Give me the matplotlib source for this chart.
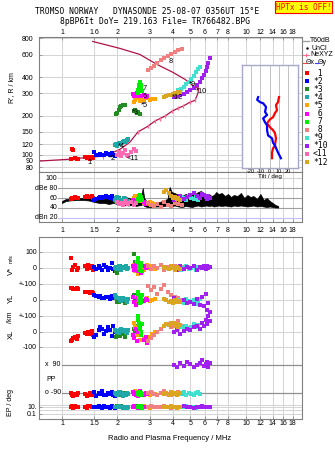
import numpy as np
import matplotlib
matplotlib.use("Agg")
import matplotlib.pyplot as plt
from matplotlib.ticker import NullLocator

plt.rcParams['font.family'] = ['Liberation Sans', 'DejaVu Sans']

# ---------------- data ----------------
freq_ticks = [1, 1.5, 2, 3, 4, 5, 6, 7, 8, 10, 12, 14, 16, 18]
freq_labels_top = ['1', '1.6', '2', '3', '4', '5', '6', '7', '8', '10', '12', '14', '16', '18']
freq_labels_bottom = ['1', '1.5', '2', '3', '4', '5', '6', '7', '8', '10', '12', '14', '16', '18']
range_ticks = [80, 90, 100, 120, 150, 200, 300, 400, 600, 800]
amp_ticks = [20, 40, 60, 80, 100]
amp_labels = ['dBn 20', '40', '60', 'dBe 80', '100']

# profile curves (MHz, km)
lower_prof_f = [0.75, 1.1, 1.47, 1.67, 1.82, 2.07, 2.34, 2.59, 2.93, 3.2, 3.63, 3.96, 4.27, 4.55, 4.96, 5.29, 5.41, 5.5, 5.52]
lower_prof_r = [89, 92, 96, 97, 101, 110, 125, 150, 166, 182, 199, 217, 229, 238, 255, 264, 284, 305, 330]
upper_prof_f = [1.47, 2.07, 2.65, 3.28, 4.01, 4.66, 5.15, 5.45]
upper_prof_r = [758, 669, 601, 503, 436, 385, 345, 330]
nexyz_f = [1.67, 2.59, 2.93, 3.2, 3.41, 3.63, 3.96, 4.27, 4.55, 4.96, 5.29]
nexyz_r = [96, 150, 166, 182, 188, 199, 217, 229, 238, 255, 264]

# tilt inset (deg, km)
tilt_x_deg = [10.3, 9.2, 7.0, 8.1, 5.9, 3.8, 0.5, -2.7, 0.5, 3.8, 5.9, 7.0, 5.9, 3.8, 2.7, 2.7]
tilt_x_r = [279, 255, 242, 221, 210, 195, 188, 175, 163, 155, 147, 134, 118, 112, 104, 94]
tilt_y_deg = [-12.4, -13.5, -10.3, -7.0, -3.8, -4.9, -2.7, -7.0, -4.9, -2.7, -2.7, -1.6, 2.7, 3.8, 5.9, 9.2, 12.4]
tilt_y_r = [279, 266, 255, 250, 234, 214, 203, 191, 178, 169, 155, 141, 134, 124, 118, 104, 94]

# amplitude envelope (black band)
amp_f = [1.0, 1.05, 1.1, 1.2, 1.3, 1.4, 1.5, 1.6, 1.7, 1.8, 1.9, 2.0, 2.1, 2.2, 2.3, 2.4, 2.5, 2.6, 2.7, 2.75,
         2.8, 2.9, 3.0, 3.1, 3.2, 3.4, 3.6, 3.75, 3.85, 3.95, 4.1, 4.3, 4.5, 4.7, 4.9, 5.1, 5.3, 5.5, 5.7, 5.9,
         6.1, 6.3, 6.5, 6.7, 6.9, 7.1, 7.4, 7.7, 8.0, 8.3, 8.6, 9.0, 9.4, 9.8, 10.2, 10.6, 11.0, 11.5, 12.0, 12.5,
         13.0, 13.5, 14.0, 14.5, 15.0]
amp_top = [54, 58, 58, 60, 60, 61, 60, 59, 58, 60, 58, 62, 60, 64, 60, 58, 62, 64, 66, 80,
           60, 52, 48, 48, 50, 52, 56, 58, 82, 72, 70, 66, 64, 68, 66, 70, 68, 72, 74, 70,
           66, 68, 64, 66, 72, 68, 70, 64, 68, 62, 66, 64, 70, 60, 66, 62, 64, 58, 68, 56,
           60, 54, 50, 46, 44]
amp_bot = [50, 54, 55, 56, 56, 55, 52, 50, 50, 48, 50, 48, 50, 46, 45, 46, 44, 45, 46, 48,
           44, 42, 42, 42, 43, 43, 44, 45, 48, 44, 45, 43, 42, 44, 43, 42, 44, 45, 43, 44,
           45, 44, 45, 43, 44, 45, 44, 45, 44, 43, 45, 44, 45, 44, 43, 44, 45, 43, 44, 43,
           42, 43, 42, 41, 41]

# echo traces: frequency (MHz), range (km), amplitude (dB), V* (m/s), YL (km), XL (km), PP (deg), EP (deg)
t1_f = [1.12, 1.13, 1.15, 1.17, 1.2, 1.22, 1.33, 1.36, 1.39, 1.42, 1.45, 1.47]
t1_r = [93, 110, 108, 94, 93, 92, 95, 94, 96, 93, 95, 94]
t1_a = [58, 60, 61, 62, 60, 61, 62, 64, 63, 62, 64, 61]
t1_v = [60, -10, 5, 20, -15, 0, 10, -5, 20, 0, 15, -10]
t1_yl = [75, 72, 70, 68, 72, 70, 50, 48, 52, 45, 48, 42]
t1_xl = [-60, -50, -40, -30, -45, -25, -5, -15, 0, -10, 5, -20]
t1_pp = [-90, -100, -110, -95, -105, -90, -95, -110, -100, -90, -105, -95]
t1_ep = [10, 20, 5, 15, 8, 12, 10, 6, 20, 15, 8, 10]

t2_f = [1.5, 1.54, 1.58, 1.62, 1.66, 1.7, 1.74, 1.78, 1.82, 1.86, 1.9, 1.95]
t2_r = [104, 100, 99, 101, 100, 100, 102, 101, 100, 103, 99, 97]
t2_a = [56, 58, 60, 62, 60, 63, 64, 62, 60, 64, 58, 60]
t2_v = [5, -5, 10, 0, -15, 20, 5, -10, 0, 30, -5, -20]
t2_yl = [30, 25, 20, 22, 15, 10, 18, 20, 8, 25, 15, 10]
t2_xl = [-30, -20, 10, 35, 20, -10, 5, 30, 15, -25, 40, 0]
t2_pp = [-85, -110, -90, -95, -80, -100, -105, -90, -95, -85, -100, -110]
t2_ep = [12, 8, 15, 10, 6, 20, 9, 12, 7, 15, 10, 5]

t3_f = [1.97, 2.0, 2.03, 2.06, 2.1, 2.15, 2.2, 2.45, 2.5, 2.55, 2.6, 2.65]
t3_r = [205, 212, 222, 233, 240, 242, 241, 218, 224, 212, 216, 208]
t3_a = [55, 58, 60, 56, 54, 52, 55, 58, 62, 60, 56, 54]
t3_v = [-20, -30, 0, 10, -10, 5, 0, 90, 40, 20, -10, 5]
t3_yl = [10, -15, -10, 5, 0, -5, -20, 30, 0, -10, 20, -5]
t3_xl = [-30, -20, -10, -25, -15, -5, -35, 20, 0, -20, 40, 10]
t3_pp = [-95, -90, -100, -85, -95, -90, -105, -90, -95, -100, -85, -90]
t3_ep = [10, 15, 8, 12, 20, 9, 6, 12, 10, 15, 8, 14]

t4_f = [1.94, 1.97, 2.0, 2.03, 2.06, 2.1, 2.14, 2.18, 2.22, 2.26, 2.3]
t4_r = [118, 120, 117, 122, 121, 124, 126, 128, 125, 130, 132]
t4_a = [56, 60, 62, 58, 54, 52, 56, 60, 58, 55, 54]
t4_v = [0, 5, -5, 10, 0, -10, 5, 0, 10, -5, 0]
t4_yl = [30, 20, 10, 15, 0, -5, 10, 5, 0, -10, 5]
t4_xl = [10, 5, 0, -5, 15, 20, 5, 10, 0, -5, 10]
t4_pp = [-90, -95, -100, -85, -95, -90, -110, -95, -100, -90, -95]
t4_ep = [12, 10, 8, 15, 9, 11, 7, 13, 10, 6, 12]

t5_f = [2.45, 2.5, 2.55, 2.6, 2.65, 2.7, 2.8, 2.9, 3.0, 3.1, 3.2]
t5_r = [255, 268, 285, 275, 260, 270, 265, 275, 268, 272, 270]
t5_a = [60, 64, 58, 56, 62, 55, 50, 48, 52, 50, 48]
t5_v = [20, -20, 40, -40, 10, 0, -10, 20, 0, 10, -5]
t5_yl = [20, -10, 0, 10, -20, -5, 0, 10, -5, 0, 5]
t5_xl = [60, 30, -20, 0, -50, -20, -40, -60, -30, -10, 0]
t5_pp = [-90, -80, -100, -95, -85, -90, -100, -95, -105, -90, -95]
t5_ep = [15, 8, 12, 10, 20, 9, 14, 11, 7, 13, 10]

t6_f = [2.43, 2.47, 2.52, 2.56, 2.6, 2.65, 2.7, 2.78, 2.85, 2.9]
t6_r = [295, 288, 283, 300, 292, 287, 283, 290, 282, 288]
t6_a = [56, 52, 50, 54, 58, 60, 56, 52, 48, 50]
t6_v = [10, -10, 20, 0, -20, 30, -30, 10, 0, 5]
t6_yl = [20, -10, -30, 0, 10, -20, 30, -5, 5, 0]
t6_xl = [-20, -40, 20, -60, 0, 30, -10, -50, -30, -70]
t6_pp = [-85, -95, -100, -90, -110, -80, -95, -100, -90, -95]
t6_ep = [10, 14, 8, 12, 6, 18, 11, 9, 13, 10]

t7_f = [2.58, 2.6, 2.62, 2.64, 2.66, 2.68, 2.7, 2.72]
t7_r = [300, 318, 335, 350, 365, 345, 325, 310]
t7_a = [54, 58, 60, 64, 66, 62, 58, 56]
t7_v = [40, 60, 20, 0, -10, 30, 10, -20]
t7_yl = [40, 50, 20, 0, -20, 10, -10, 30]
t7_xl = [100, 80, 60, 40, 20, 0, -20, 50]
t7_pp = [-95, -90, -100, -85, -95, -105, -90, -95]
t7_ep = [12, 9, 15, 10, 8, 14, 11, 7]

t8_f = [2.95, 3.05, 3.15, 3.3, 3.45, 3.6, 3.75, 3.9, 4.1, 4.3, 4.5]
t8_r = [455, 470, 490, 515, 540, 560, 585, 610, 630, 650, 665]
t8_a = [50, 46, 44, 48, 42, 52, 46, 44, 50, 48, 46]
t8_v = [10, -5, 15, 0, 20, -10, 5, 0, 10, -5, 5]
t8_yl = [90, 60, 80, 40, 70, 95, 50, 30, 20, 10, 0]
t8_xl = [-60, -40, -20, 0, 20, 40, 50, 30, 60, 70, 40]
t8_pp = [-90, -85, -95, -100, -90, -80, -95, -105, -90, -85, -95]
t8_ep = [10, 15, 8, 12, 9, 14, 11, 7, 13, 10, 8]

t9_f = [4.3, 4.45, 4.6, 4.75, 4.9, 5.05, 5.2, 5.35, 5.5, 5.6]
t9_r = [315, 325, 338, 352, 368, 388, 410, 435, 465, 480]
t9_a = [58, 62, 60, 56, 64, 60, 58, 62, 56, 60]
t9_v = [5, -10, 0, 10, -5, 0, 15, -10, 5, 0]
t9_yl = [0, -10, -20, 5, -5, -15, 0, -25, -10, 5]
t9_xl = [20, 30, 10, 40, 25, 35, 50, 30, 45, 20]
t9_pp = [-90, -95, -85, -100, -90, -95, -105, -90, -85, -95]
t9_ep = [10, 12, 8, 15, 9, 11, 13, 7, 10, 12]

t10_f = [4.05, 4.2, 4.4, 4.6, 4.8, 5.0, 5.2, 5.4, 5.6, 5.8, 5.95, 6.05, 6.15, 6.25, 6.35]
t10_r = [280, 284, 290, 298, 308, 318, 332, 348, 368, 392, 418, 448, 480, 520, 565]
t10_a = [56, 60, 64, 58, 62, 66, 70, 64, 60, 68, 66, 62, 58, 64, 60]
t10_v = [0, -10, 10, -5, 5, 0, 10, -10, 5, 0, 15, -5, 10, 0, 5]
t10_yl = [10, -5, -15, 0, -20, -10, -25, 5, -30, 20, -40, 40, -60, -20, -75]
t10_xl = [0, 10, -10, 5, 20, 10, 30, 40, 20, 60, 40, 80, 50, 100, 70]
t10_pp = [90, 80, 100, 85, 110, 95, 75, 90, 100, 120, 85, 95, 110, 80, 100]
t10_ep = [10, 12, 8, 15, 9, 11, 7, 13, 10, 14, 9, 12, 8, 11, 10]

t11_f = [2.0, 2.05, 2.1, 2.15, 2.2, 2.25, 2.3, 2.38, 2.45, 2.52]
t11_r = [100, 104, 98, 102, 108, 100, 97, 104, 110, 106]
t11_a = [52, 48, 50, 46, 54, 50, 48, 52, 46, 50]

t12_f = [3.6, 3.7, 3.8, 3.9, 4.0, 4.1, 4.2, 4.3, 4.4]
t12_r = [282, 285, 289, 292, 296, 299, 302, 304, 306]
t12_a = [72, 76, 70, 64, 60, 62, 58, 60, 56]
t12_v = [5, 0, -5, 10, 0, -10, 5, 0, -5]
t12_yl = [5, 0, -10, -5, -20, 0, -15, -5, -10]
t12_xl = [40, 50, 45, 55, 60, 40, 50, 35, 45]
t12_pp = [-95, -90, -100, -85, -95, -90, -100, -95, -90]
t12_ep = [10, 8, 12, 15, 9, 11, 7, 13, 10]

trace_names = [' 1', '*2', '*3', '*4', '*5', ' 6', ' 7', ' 8', '*9', '*10', '<11', '*12']
trace_colors = ['#ff0000', '#0000ff', '#228b22', '#20a8a8', '#ffa500', '#ff00ff',
                '#00ee00', '#f08080', '#40e0d0', '#a020f0', '#ff69b4', '#daa520']

# trace labels in the range panel
label_text = ['1', '*2', '<11', '*4', '*3', '*5', '6', '7', '8', '*9', '*10', '*12']
label_f = [1.37, 1.80, 2.26, 2.02, 2.40, 2.68, 2.74, 2.76, 3.81, 4.90, 5.35, 3.96]
label_r = [87, 94, 94, 116, 214, 242, 284, 326, 531, 352, 311, 279]

traces = [
    (t1_f, t1_r, t1_a, t1_v, t1_yl, t1_xl, t1_pp, t1_ep),
    (t2_f, t2_r, t2_a, t2_v, t2_yl, t2_xl, t2_pp, t2_ep),
    (t3_f, t3_r, t3_a, t3_v, t3_yl, t3_xl, t3_pp, t3_ep),
    (t4_f, t4_r, t4_a, t4_v, t4_yl, t4_xl, t4_pp, t4_ep),
    (t5_f, t5_r, t5_a, t5_v, t5_yl, t5_xl, t5_pp, t5_ep),
    (t6_f, t6_r, t6_a, t6_v, t6_yl, t6_xl, t6_pp, t6_ep),
    (t7_f, t7_r, t7_a, t7_v, t7_yl, t7_xl, t7_pp, t7_ep),
    (t8_f, t8_r, t8_a, t8_v, t8_yl, t8_xl, t8_pp, t8_ep),
    (t9_f, t9_r, t9_a, t9_v, t9_yl, t9_xl, t9_pp, t9_ep),
    (t10_f, t10_r, t10_a, t10_v, t10_yl, t10_xl, t10_pp, t10_ep),
    (t11_f, t11_r, t11_a, None, None, None, None, None),
    (t12_f, t12_r, t12_a, t12_v, t12_yl, t12_xl, t12_pp, t12_ep),
]

# ---------------- layout ----------------
W, H = 335, 451
fig = plt.figure(figsize=(W / 100, H / 100), dpi=100)


def px_axes(x0, y0, x1, y1, **kw):
    return fig.add_axes([x0 / W, 1 - y1 / H, (x1 - x0) / W, (y1 - y0) / H], **kw)


XLIM = (0.75, 20.2)
FRAME = '#808080'
GRID = '#d4d4d4'
FS = 5
MS = 5


def style_freq(ax):
    ax.set_xscale('log')
    ax.set_xlim(*XLIM)
    ax.set_xticks(freq_ticks)
    ax.xaxis.set_minor_locator(NullLocator())
    for x in freq_ticks:
        ax.axvline(x, color=GRID, lw=0.7, zorder=0)
    for s in ax.spines.values():
        s.set_color(FRAME)
        s.set_linewidth(0.8)
    ax.tick_params(length=2, width=0.5, color=FRAME, labelsize=FS, direction='in')


# ---- range panel ----
ax_r = px_axes(39, 37, 302, 172)
style_freq(ax_r)
ax_r.set_yscale('log')
ax_r.set_ylim(73.2, 821)
ax_r.set_yticks(range_ticks)
ax_r.set_yticklabels([str(v) for v in range_ticks])
ax_r.yaxis.set_minor_locator(NullLocator())
ax_r.xaxis.tick_top()
ax_r.set_xticklabels(freq_labels_top)
ax_r.tick_params(axis='x', pad=1)
ax_r.tick_params(axis='y', pad=4)
for y in range_ticks:
    ax_r.axhline(y, color=GRID, lw=0.7, zorder=0)

ax_r.plot(upper_prof_f, upper_prof_r, color='#b0124a', lw=0.9, zorder=2)
ax_r.plot(lower_prof_f, lower_prof_r, color='#b0124a', lw=0.9, zorder=2)
ax_r.plot(nexyz_f, nexyz_r, ls='none', marker='|', ms=3.5, mew=0.9, color='#ff6f8f', zorder=3)

for i, tr in enumerate(traces):
    ax_r.scatter(tr[0], tr[1], s=MS, marker='s', color=trace_colors[i], linewidths=0, zorder=4)
for t, f, r in zip(label_text, label_f, label_r):
    ax_r.text(f, r, t, fontsize=5.3, ha='left', va='center', color='black', zorder=5)

# ---- amplitude panel ----
ax_a = px_axes(39, 172, 302, 222)
style_freq(ax_a)
ax_a.set_ylim(12, 112)
ax_a.set_yticks([])
ax_a.set_xticklabels(freq_labels_bottom)
ax_a.tick_params(axis='x', pad=3.5)
for y, lab in zip(amp_ticks, amp_labels):
    ax_a.plot([0.955, XLIM[1]], [y, y], color='#c0c0ff' if y == 20 else ('#d4d4d4' if y == 100 else '#a0a0a0'),
              lw=0.8, zorder=0)
    ax_a.text(0.945, y, lab, fontsize=FS, ha='right', va='center')
ax_a.fill_between(amp_f, amp_bot, amp_top, color='black', lw=0.5, zorder=2)
for i, tr in enumerate(traces):
    ax_a.scatter(tr[0], tr[2], s=MS, marker='s', color=trace_colors[i], linewidths=0, zorder=3)

# ---- lower panel (rows in screen units) ----
ax_l = px_axes(39, 237, 302, 419)
style_freq(ax_l)
ax_l.set_ylim(419, 237)
ax_l.set_xticklabels(freq_labels_bottom)
ax_l.tick_params(axis='x', pad=0.5)
row_ticks = [252, 268, 284, 300, 316, 332, 347, 407, 414]
row_labels = ['100', '0', '+-100', '0', '+-100', '0', '-100', '10.', '0.1']
ax_l.set_yticks(row_ticks)
ax_l.set_yticklabels(row_labels)
ax_l.tick_params(axis='y', pad=1.5)
for y in row_ticks + [405, 410]:
    ax_l.axhline(y, color=GRID, lw=0.7, zorder=0)
for y, lab in [(365, 'x  90'), (393, 'o -90')]:
    ax_l.plot([1.0, XLIM[1]], [y, y], color='#909090', lw=0.9, zorder=0)
    ax_l.text(0.985, y, lab, fontsize=FS, ha='right', va='center')
ax_l.text(0.82, 380, 'PP', fontsize=FS, ha='left', va='center')


def v_row(v):
    return 268 - 0.16 * np.asarray(v, float)


def yl_row(v):
    return 300 - 0.16 * np.asarray(v, float)


def xl_row(v):
    return 332 - 0.155 * np.asarray(v, float)


def pp_row(v):
    return 379 - np.asarray(v, float) * 14 / 90


def ep_row(v):
    return 407 - (np.log10(np.asarray(v, float)) - 1) * 3.5


for i, tr in enumerate(traces):
    f = tr[0]
    if tr[3] is None:
        continue
    for vals, fn in [(tr[3], v_row), (tr[4], yl_row), (tr[5], xl_row), (tr[6], pp_row), (tr[7], ep_row)]:
        ax_l.scatter(f, fn(vals), s=MS, marker='s', color=trace_colors[i], linewidths=0, zorder=3)

# ---- tilt inset ----
ax_t = px_axes(242, 65, 298, 168)
ax_t.set_zorder(6)
ax_t.set_facecolor('white')
ax_t.set_xlim(-30, 31)
ax_t.set_yscale('log')
ax_t.set_ylim(79, 494)
ax_t.set_yticks([])
ax_t.yaxis.set_minor_locator(NullLocator())
ax_t.set_xticks([-20, -10, 0, 10, 20])
ax_t.set_xticklabels(['-20', '-10', '0', '10', '20'])
ax_t.tick_params(axis='x', length=0, labelsize=4, pad=1)
for x in [-20, -10, 0, 10, 20]:
    ax_t.axvline(x, color='#b8b8b8', lw=0.6, zorder=0)
for s in ax_t.spines.values():
    s.set_color('#a8a8c8')
    s.set_linewidth(1.0)
ax_t.set_xlabel('Tilt / deg', fontsize=4.5, labelpad=0)
ax_t.plot(tilt_x_deg, tilt_x_r, color='#ff0000', lw=1.6)
ax_t.plot(tilt_y_deg, tilt_y_r, color='#0000ff', lw=1.6)

# ---- overlay (text, legend) ----
ov = fig.add_axes([0, 0, 1, 1], zorder=10)
ov.set_xlim(0, W)
ov.set_ylim(H, 0)
ov.axis('off')
ov.patch.set_alpha(0)

mono = ['DejaVu Sans Mono']
ov.text(35, 12, 'TROMSO NORWAY   DYNASONDE 25-08-07 0356UT 15\u00b0E', family=mono, fontsize=5.8,
        ha='left', va='center')
ov.text(60, 22, '8pBP6It DoY= 219.163 File= TR766482.BPG', family=mono, fontsize=5.8,
        ha='left', va='center')
ov.text(303.5, 7, 'HPTx is OFF!', family=mono, fontsize=5.6, color='#ff0000', ha='center', va='center',
        bbox=dict(boxstyle='square,pad=0.15', facecolor='#ffff00', edgecolor='#ff0000', lw=0.8))

# legend
ov.plot([303, 309], [41, 41], color='#a0a0a0', lw=1)
ov.text(310, 41, 'T60dB', fontsize=5, va='center')
ov.plot([307], [48], marker='.', color='black', ms=1.5)
ov.text(311, 48, 'UnCl', fontsize=5, va='center')
ov.plot([303, 309], [55, 55], color='#ff6f8f', lw=0.8)
ov.plot([306], [55], marker='+', color='#ff6f8f', ms=3, mew=0.7)
ov.text(310, 55, 'NeXYZ', fontsize=5, va='center')
ov.plot([303, 306], [63, 63], color='#ff4040', lw=0.8)
ov.text(306, 63, '\u0398x', fontsize=5, va='center')
ov.plot([315, 318], [63, 63], color='#4040ff', lw=0.8)
ov.text(318, 63, '\u0398y', fontsize=5, va='center')
for i, (nm, c) in enumerate(zip(trace_names, trace_colors)):
    yy = 73 + 8.1 * i
    ov.scatter([307], [yy], s=9, marker='s', color=c, linewidths=0)
    ov.text(313, yy, nm, family=mono, fontsize=5.8, va='center', ha='left')

# axis labels
ov.text(12, 88, "R', R / km", fontsize=5, rotation=90, ha='center', va='center')
ov.text(11, 271, 'V*', fontsize=5.5, rotation=90, ha='center', va='center')
ov.text(11, 259, 'm/s', fontsize=4, rotation=90, ha='center', va='center')
ov.text(11, 298, 'YL', fontsize=5.5, rotation=90, ha='center', va='center')
ov.text(11, 317, '/km', fontsize=5, rotation=90, ha='center', va='center')
ov.text(11, 334, 'XL', fontsize=5.5, rotation=90, ha='center', va='center')
ov.text(11, 403, 'EP / deg', fontsize=5, rotation=90, ha='center', va='center')
ov.text(170, 439, 'Radio and Plasma Frequency / MHz', fontsize=5.5, ha='center', va='center')

fig.savefig('out.png', dpi=100)
